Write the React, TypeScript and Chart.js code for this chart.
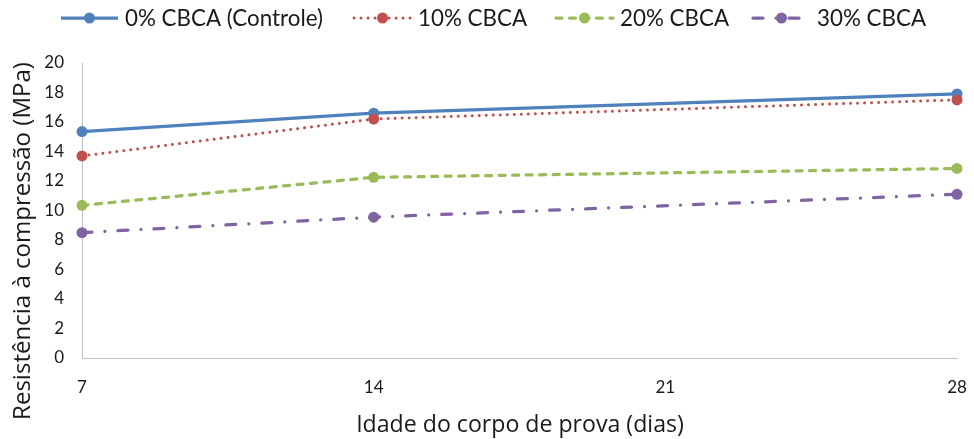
import React, { useEffect, useRef } from "react";
import { Chart, registerables } from "chart.js";

Chart.register(...registerables);

// ---- data ----
const ages = [7, 14, 28];
const seriesNames = ["0% CBCA (Controle)", "10% CBCA", "20% CBCA", "30% CBCA"];
const control = [15.35, 16.6, 17.9];
const cbca10 = [13.7, 16.2, 17.5];
const cbca20 = [10.35, 12.25, 12.85];
const cbca30 = [8.5, 9.55, 11.1];
const xTicks = [7, 14, 21, 28];
const yTicks = [0, 2, 4, 6, 8, 10, 12, 14, 16, 18, 20];
const xTitle = "Idade do corpo de prova (dias)";
const yTitle = "Resistência à compressão (MPa)";

// ---- styles ----
const colors = ["#4F81BD", "#C0504D", "#9BBB59", "#8064A2"];
const dashes: number[][] = [[], [0.01, 7], [6, 7.5], [10, 13, 0.01, 13]];
const widths = [3.25, 3, 3.25, 3.25];
const caps: CanvasLineCap[] = ["butt", "round", "round", "round"];
const values = [control, cbca10, cbca20, cbca30];

const tickFont = "Lato, 'Noto Sans', sans-serif";
const titleFont = "'Open Sans', 'Noto Sans', sans-serif";
const textColor = "#1a1a1a";

function fitSize(ctx: CanvasRenderingContext2D, text: string, family: string, target: number) {
  ctx.font = `100px ${family}`;
  const w = ctx.measureText(text).width;
  return (100 * target) / w;
}

const overlayPlugin = {
  id: "overlay",
  afterDraw(chart: any) {
    const ctx: CanvasRenderingContext2D = chart.ctx;
    ctx.save();
    // legend
    const starts = [61, 354, 556, 753];
    const sampleW = 57;
    const ly = 18;
    const legendSize = fitSize(ctx, seriesNames[0], tickFont, 198);
    seriesNames.forEach((name, i) => {
      const x0 = starts[i];
      ctx.strokeStyle = colors[i];
      ctx.lineWidth = widths[i];
      ctx.lineCap = caps[i];
      ctx.setLineDash(dashes[i]);
      ctx.beginPath();
      ctx.moveTo(x0, ly);
      ctx.lineTo(x0 + sampleW, ly);
      ctx.stroke();
      ctx.setLineDash([]);
      ctx.fillStyle = colors[i];
      ctx.beginPath();
      ctx.arc(x0 + sampleW / 2, ly, 5.5, 0, Math.PI * 2);
      ctx.fill();
      ctx.fillStyle = textColor;
      ctx.font = `${legendSize}px ${tickFont}`;
      ctx.textAlign = "left";
      ctx.textBaseline = "middle";
      ctx.fillText(name, x0 + sampleW + 7, ly + 1);
    });
    // x title
    const xs = fitSize(ctx, xTitle, titleFont, 328);
    ctx.font = `${xs}px ${titleFont}`;
    ctx.fillStyle = textColor;
    ctx.textAlign = "center";
    ctx.textBaseline = "alphabetic";
    ctx.fillText(xTitle, 520, 432);
    // y title
    const ys = fitSize(ctx, yTitle, titleFont, 358);
    ctx.font = `${ys}px ${titleFont}`;
    ctx.translate(29.5, 241);
    ctx.rotate(-Math.PI / 2);
    ctx.fillText(yTitle, 0, 0);
    ctx.restore();
  },
};

export default function App() {
  const ref = useRef<HTMLCanvasElement | null>(null);
  useEffect(() => {
    document.body.style.margin = "0";
    document.body.style.background = "#ffffff";
    const canvas = ref.current;
    if (!canvas) return;
    const chart = new Chart(canvas, {
      type: "line",
      data: {
        datasets: seriesNames.map((name, i) => ({
          label: name,
          data: ages.map((a, j) => ({ x: a, y: values[i][j] })),
          borderColor: colors[i],
          backgroundColor: colors[i],
          borderWidth: widths[i],
          borderDash: dashes[i],
          borderCapStyle: caps[i],
          pointRadius: 5.5,
          pointBorderWidth: 0,
          pointBackgroundColor: colors[i],
          pointBorderColor: colors[i],
          tension: 0,
          fill: false,
          clip: false as any,
          order: 4 - i,
        })),
      },
      options: {
        responsive: false,
        animation: false,
        events: [],
        layout: { padding: { top: 63, right: 17, left: 0, bottom: 0 } },
        plugins: { legend: { display: false }, tooltip: { enabled: false }, title: { display: false } },
        scales: {
          x: {
            type: "linear",
            min: xTicks[0],
            max: xTicks[xTicks.length - 1],
            afterBuildTicks: (scale: any) => {
              scale.ticks = xTicks.map((v) => ({ value: v }));
            },
            afterFit: (scale: any) => {
              scale.height = 81;
              scale.paddingLeft = 0;
              scale.paddingRight = 0;
            },
            grid: { display: false, drawTicks: false },
            border: { display: true, color: "#BFBFBF", width: 1 },
            ticks: {
              padding: 19,
              color: textColor,
              font: { family: tickFont, size: 17 },
              maxRotation: 0,
            },
          },
          y: {
            min: yTicks[0],
            max: yTicks[yTicks.length - 1],
            afterBuildTicks: (scale: any) => {
              scale.ticks = yTicks.map((v) => ({ value: v }));
            },
            afterFit: (scale: any) => {
              scale.width = 82;
              scale.paddingTop = 0;
              scale.paddingBottom = 0;
            },
            grid: { display: false, drawTicks: false },
            border: { display: true, color: "#BFBFBF", width: 1 },
            ticks: {
              padding: 18,
              color: textColor,
              font: { family: tickFont, size: 17 },
            },
          },
        },
      },
      plugins: [overlayPlugin],
    });
    return () => chart.destroy();
  }, []);
  return (
    <div style={{ width: 974, height: 439 }}>
      <canvas ref={ref} width={974} height={439} style={{ display: "block" }} />
    </div>
  );
}
